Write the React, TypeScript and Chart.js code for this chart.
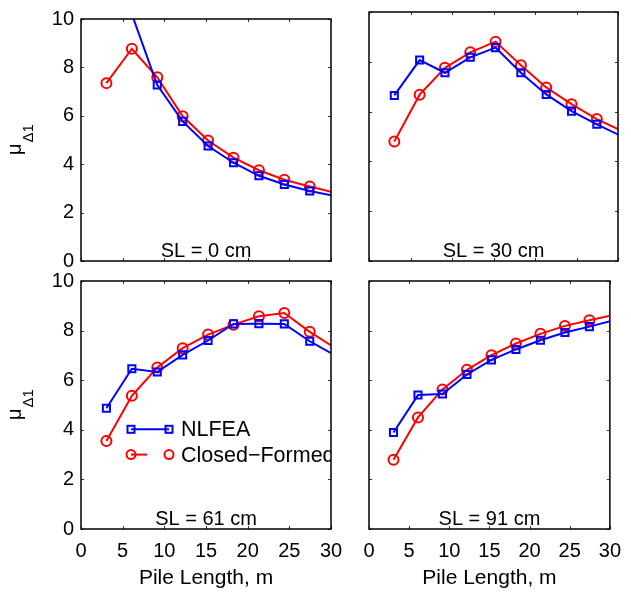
import { useEffect, useRef } from "react";
import { Chart, registerables } from "chart.js";
Chart.register(...registerables);

const pileLength = [3.05, 6.1, 9.15, 12.2, 15.25, 18.3, 21.35, 24.4, 27.45, 30.5];
const markerRadius = [5, 5, 5, 5, 5, 5, 5, 5, 5, 0];
const xTickValues = [0, 5, 10, 15, 20, 25, 30];
const yTickValues = [0, 2, 4, 6, 8, 10];
const seriesNames = ["NLFEA", "Closed\u2212Formed"];
const panelTitles = ["SL = 0 cm", "SL = 30 cm", "SL = 61 cm", "SL = 91 cm"];

const nlfeaSL0 = [12.5, 10.2, 7.27, 5.77, 4.75, 4.06, 3.52, 3.16, 2.89, 2.68];
const closedSL0 = [7.35, 8.77, 7.59, 5.98, 4.98, 4.27, 3.75, 3.36, 3.08, 2.82];
const nlfeaSL30 = [6.65, 8.07, 7.56, 8.18, 8.57, 7.56, 6.69, 6.02, 5.49, 5.0];
const closedSL30 = [4.8, 6.68, 7.76, 8.38, 8.81, 7.86, 6.97, 6.3, 5.7, 5.22];
const nlfeaSL61 = [4.87, 6.46, 6.33, 7.02, 7.6, 8.27, 8.28, 8.27, 7.57, 7.0];
const closedSL61 = [3.55, 5.37, 6.51, 7.29, 7.84, 8.24, 8.58, 8.71, 7.95, 7.3];
const nlfeaSL91 = [3.89, 5.4, 5.44, 6.23, 6.82, 7.24, 7.61, 7.92, 8.16, 8.42];
const closedSL91 = [2.79, 4.5, 5.63, 6.42, 7.01, 7.48, 7.87, 8.19, 8.42, 8.63];

const W = 631;
const H = 592;
const FONT = "'Liberation Sans', Arial, Helvetica, sans-serif";
const BLUE = "#0000ff";
const RED = "#ff0000";

type Panel = {
  nlfea: number[];
  closed: number[];
  title: string;
  left: number;
  top: number;
  right: number;
  bottom: number;
  showY: boolean;
  showX: boolean;
  legend: boolean;
};

const panels: Panel[] = [
  { nlfea: nlfeaSL0, closed: closedSL0, title: panelTitles[0], left: 81, top: 12, right: 331, bottom: 261, showY: true, showX: false, legend: false },
  { nlfea: nlfeaSL30, closed: closedSL30, title: panelTitles[1], left: 369, top: 12, right: 618, bottom: 261, showY: false, showX: false, legend: false },
  { nlfea: nlfeaSL61, closed: closedSL61, title: panelTitles[2], left: 81, top: 281, right: 331, bottom: 529, showY: true, showX: true, legend: true },
  { nlfea: nlfeaSL91, closed: closedSL91, title: panelTitles[3], left: 369, top: 281, right: 618, bottom: 529, showY: false, showX: true, legend: false },
];

const framePlugin = {
  id: "matlabFrame",
  afterDatasetsDraw(chart: any, _args: any, opts: any) {
    const { ctx, chartArea } = chart;
    const { left, top, right, bottom } = chartArea;
    const xs = chart.scales.x;
    const ys = chart.scales.y;
    ctx.save();
    // inner ticks
    ctx.strokeStyle = "#333";
    ctx.lineWidth = 1;
    ctx.beginPath();
    xTickValues.forEach((v) => {
      const px = Math.round(xs.getPixelForValue(v)) + 0.5;
      ctx.moveTo(px, bottom);
      ctx.lineTo(px, bottom - 3);
      ctx.moveTo(px, top);
      ctx.lineTo(px, top + 3);
    });
    yTickValues.forEach((v) => {
      const py = Math.round(ys.getPixelForValue(v)) + 0.5;
      ctx.moveTo(left, py);
      ctx.lineTo(left + 3, py);
      ctx.moveTo(right, py);
      ctx.lineTo(right - 3, py);
    });
    ctx.stroke();
    // frame
    ctx.strokeStyle = "#000";
    ctx.lineWidth = 1.5;
    ctx.strokeRect(left, top, right - left, bottom - top);

    // panel label
    ctx.fillStyle = "#000";
    ctx.font = `20px ${FONT}`;
    ctx.textAlign = "center";
    ctx.textBaseline = "alphabetic";
    ctx.fillText(opts.title, (left + right) / 2, bottom - 4);

    // y label with subscript
    if (opts.showY) {
      const cy = (top + bottom) / 2;
      ctx.save();
      ctx.translate(21, cy + 15);
      ctx.rotate(-Math.PI / 2);
      ctx.textAlign = "left";
      ctx.font = `20px ${FONT}`;
      ctx.fillText("\u03bc", 0, 0);
      const w = ctx.measureText("\u03bc").width;
      ctx.font = `15px ${FONT}`;
      ctx.fillText("\u03941", w + 1, 12);
      ctx.restore();
    }

    // legend
    if (opts.legend) {
      ctx.save();
      ctx.beginPath();
      ctx.rect(left, top, right - left, bottom - top);
      ctx.clip();
      const x0 = left + 50;
      const x1 = left + 88;
      const yB = ys.getPixelForValue(4.02);
      const yR = ys.getPixelForValue(3.0);
      ctx.lineWidth = 2;
      ctx.strokeStyle = BLUE;
      ctx.beginPath();
      ctx.moveTo(x0, yB);
      ctx.lineTo(x1, yB);
      ctx.stroke();
      [x0, x1].forEach((x) => ctx.strokeRect(x - 3.5, yB - 3.5, 7, 7));
      ctx.strokeStyle = RED;
      ctx.beginPath();
      ctx.moveTo(x0, yR);
      ctx.lineTo(x0 + 16, yR);
      ctx.stroke();
      [x0, x1].forEach((x) => {
        ctx.beginPath();
        ctx.arc(x, yR, 4.5, 0, Math.PI * 2);
        ctx.stroke();
      });
      ctx.fillStyle = "#000";
      ctx.font = `21.5px ${FONT}`;
      ctx.textAlign = "left";
      ctx.textBaseline = "middle";
      ctx.fillText(seriesNames[0], x1 + 12, yB + 1);
      ctx.fillText(seriesNames[1], x1 + 12, yR + 1);
      ctx.restore();
    }
    ctx.restore();
  },
};

function PanelChart({ p }: { p: Panel }) {
  const ref = useRef<HTMLCanvasElement | null>(null);
  useEffect(() => {
    if (!ref.current) return;
    const yWidth = p.showY ? p.left : 0;
    const xHeight = p.showX ? H - p.bottom : 0;
    const chart = new Chart(ref.current, {
      type: "line",
      data: {
        datasets: [
          {
            label: seriesNames[0],
            data: pileLength.map((x, i) => ({ x, y: p.nlfea[i] })),
            borderColor: BLUE,
            backgroundColor: "rgba(0,0,0,0)",
            borderWidth: 2,
            pointStyle: "rect",
            pointRadius: markerRadius,
            pointBorderWidth: 2,
            pointBorderColor: BLUE,
            pointBackgroundColor: "rgba(0,0,0,0)",
            tension: 0,
          },
          {
            label: seriesNames[1],
            data: pileLength.map((x, i) => ({ x, y: p.closed[i] })),
            borderColor: RED,
            backgroundColor: "rgba(0,0,0,0)",
            borderWidth: 2,
            pointStyle: "circle",
            pointRadius: markerRadius,
            pointBorderWidth: 2,
            pointBorderColor: RED,
            pointBackgroundColor: "rgba(0,0,0,0)",
            tension: 0,
          },
        ],
      },
      options: {
        responsive: false,
        animation: false,
        events: [],
        layout: {
          padding: {
            left: p.showY ? 0 : p.left,
            top: p.top,
            right: W - p.right,
            bottom: H - p.bottom - xHeight,
          },
        },
        plugins: {
          legend: { display: false },
          tooltip: { enabled: false },
          matlabFrame: { title: p.title, showY: p.showY, legend: p.legend },
        } as any,
        scales: {
          x: {
            type: "linear",
            min: 0,
            max: 30,
            grid: { display: false, drawTicks: false },
            border: { display: false },
            afterFit: (s: any) => {
              s.height = xHeight;
            },
            afterBuildTicks: (s: any) => {
              s.ticks = xTickValues.map((v) => ({ value: v }));
            },
            ticks: {
              display: p.showX,
              autoSkip: false,
              maxRotation: 0,
              padding: 10,
              color: "#000",
              font: { family: FONT, size: 20 },
            },
            title: {
              display: p.showX,
              text: "Pile Length, m",
              color: "#000",
              font: { family: FONT, size: 21 },
              padding: { top: 0, bottom: 1 },
            },
          },
          y: {
            type: "linear",
            min: 0,
            max: 10,
            grid: { display: false, drawTicks: false },
            border: { display: false },
            afterFit: (s: any) => {
              s.width = yWidth;
            },
            afterBuildTicks: (s: any) => {
              s.ticks = yTickValues.map((v) => ({ value: v }));
            },
            ticks: {
              display: p.showY,
              autoSkip: false,
              padding: 7,
              color: "#000",
              font: { family: FONT, size: 20 },
            },
          },
        },
      },
      plugins: [framePlugin],
    } as any);
    return () => chart.destroy();
  }, [p]);
  return (
    <canvas
      ref={ref}
      width={W}
      height={H}
      style={{ position: "absolute", left: 0, top: 0, width: W, height: H }}
    />
  );
}

export default function App() {
  return (
    <div
      style={{
        position: "fixed",
        left: 0,
        top: 0,
        width: W,
        height: H,
        background: "#fff",
        overflow: "hidden",
      }}
    >
      {panels.map((p, i) => (
        <PanelChart key={i} p={p} />
      ))}
    </div>
  );
}
